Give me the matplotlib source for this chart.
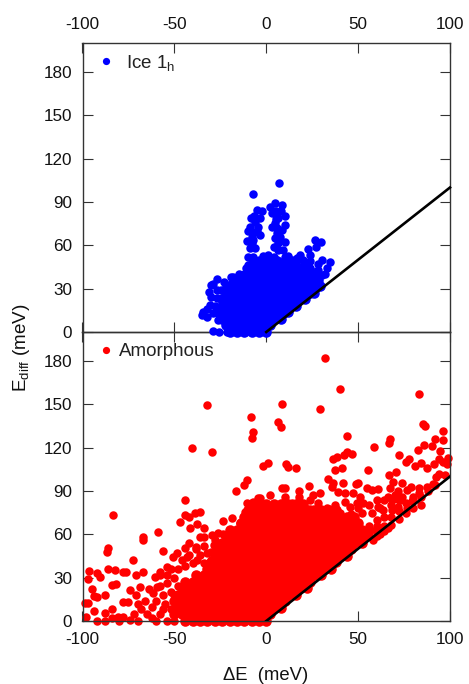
import numpy as np
import matplotlib
matplotlib.use('Agg')
import matplotlib.pyplot as plt
from matplotlib.lines import Line2D

plt.rcParams['font.family'] = ['Liberation Sans', 'DejaVu Sans']
plt.rcParams['mathtext.fontset'] = 'custom'
plt.rcParams['mathtext.rm'] = 'Liberation Sans'
plt.rcParams['mathtext.default'] = 'rm'
plt.rcParams['axes.unicode_minus'] = False

x_ticks = [-100, -50, 0, 50, 100]
y_ticks = [0, 30, 60, 90, 120, 150, 180]
line_x = [0, 100]
line_y = [0, 100]

# dense part of each cloud, read row by row
ice_row_y = [0, 4.5, 9, 13.5, 18, 22.5, 27, 31.5, 36, 40.5, 45, 49]
ice_row_x = [
    [-20, -16, -12, -8, -4, 0],
    [-22, -18, -14, -10, -6, -2, 2],
    [-24, -20, -16, -12, -8, -4, 0, 4, 8],
    [-26, -22, -18, -14, -10, -6, -2, 2, 6, 10, 12],
    [-24, -20, -16, -12, -8, -4, 0, 4, 8, 12, 16],
    [-24, -22, -18, -14, -10, -6, -2, 2, 6, 10, 14, 18, 21],
    [-22, -20, -16, -12, -8, -4, 0, 4, 8, 12, 16, 20, 24, 26],
    [-20, -18, -14, -10, -6, -2, 2, 6, 10, 14, 18, 22, 26, 29],
    [-16, -12, -8, -4, 0, 4, 8, 12, 16, 20, 24, 28],
    [-10, -6, -2, 2, 6, 10, 14, 18, 22, 26],
    [-6, -4, 0, 4, 8, 12, 16, 20, 22],
    [0, 2, 6, 10, 14],
]
ice_x = [7.1, -7.4, 4.7, 8.4, 2, 5.3, 2.9, 10.2, 6.5, 2.9, 4.7, 10.2, 8.4, 5.6, 4.7, 10.2, 6.5, 6.5, 9.3, 12,
         -5.3, -2.5, -8.5, -3.4, -6.2, -4.3, -9.8, -7, -3.4, -10.7, -8, -8.9, -6.2, -9.8, -7, -9.8,
         -1.6, 1.1, 26.5, 29.8, 22.9, 26.9, 18.3, 23.8, 30.1, 34.7, 32.8, 28.3, 30.1, 27.4, 22, 16.5,
         -27, -30.1, -23, -18.9, -24.8, -12, -27, -30.6, -34.6, -35.2, -32.5, -28.8, -28.8, -25.6, -21.6, -16.1, -11.6,
         -7, -9, 5.5, 7.5, 4, 8, 6, -5, -6.5, -8, -8, -30, -28, -32, -26, -22, -18, -14, -11, -8, -4, 4, 10, 16,
         20, 24, 28, 32, 20, 24, 28, 26, 24, 18, -31, -29, -27, -19, -15]
ice_y = [103, 95.6, 89.6, 88, 86.8, 83.4, 82.2, 80.3, 78.7, 73, 75.3, 74.1, 70.7, 68.3, 64.9, 62.6, 61.4, 56.8, 56.8, 52.9,
         84.5, 84, 79.2, 78.7, 76.4, 73, 70.2, 68.3, 67.2, 63.3, 61.4, 58, 58, 52.2, 52.2, 46.4,
         52.7, 53.3, 63.7, 62.6, 57.3, 58.7, 53.3, 53.3, 49.9, 48.7, 44.1, 43, 39.5, 34.9, 47.6, 51,
         36.5, 32.6, 34.4, 34.9, 29.1, 40, 23.3, 18.7, 14.1, 11.8, 10.6, 13, 0.7, 0, 0, 0, 0,
         64, 73, 78, 66, 59, 84, 72, 70, 80, 66, 48, 24, 18, 16, 8, 32, 38, 38, 44, 47, 50, 52, 52, 48,
         45, 42, 37, 40, 50, 49, 47, 40, 44, 51, 28, 33, 29, 38, 40]

amorph_row_y = [0, 4.5, 9, 13.5, 18, 22.5, 27, 31.5, 36, 40.5, 45, 49.5, 54, 58.5, 63, 67.5, 72, 76.5, 81]
amorph_row_x = [
    [-44, -40, -36, -32, -28, -24, -20, -16, -12, -8, -4, 0],
    [-50, -46, -42, -38, -34, -30, -26, -22, -18, -14, -10, -6, -2, 2],
    [-48, -44, -40, -36, -32, -28, -24, -20, -16, -12, -8, -4, 0, 4, 8],
    [-50, -46, -42, -38, -34, -30, -26, -22, -18, -14, -10, -6, -2, 2, 6, 10],
    [-48, -44, -40, -36, -32, -28, -24, -20, -16, -12, -8, -4, 0, 4, 8, 12, 16],
    [-46, -42, -38, -34, -30, -26, -22, -18, -14, -10, -6, -2, 2, 6, 10, 14, 18, 22],
    [-44, -40, -36, -32, -28, -24, -20, -16, -12, -8, -4, 0, 4, 8, 12, 16, 20, 24],
    [-38, -34, -30, -26, -22, -18, -14, -10, -6, -2, 2, 6, 10, 14, 18, 22, 26, 30],
    [-32, -28, -24, -20, -16, -12, -8, -4, 0, 4, 8, 12, 16, 20, 24, 28, 32, 35],
    [-30, -26, -22, -18, -14, -10, -6, -2, 2, 6, 10, 14, 18, 22, 26, 30, 34, 38],
    [-28, -24, -20, -16, -12, -8, -4, 0, 4, 8, 12, 16, 20, 24, 28, 32, 36, 40, 44],
    [-26, -22, -18, -14, -10, -6, -2, 2, 6, 10, 14, 18, 22, 26, 30, 34, 38, 42, 46],
    [-24, -20, -16, -12, -8, -4, 0, 4, 8, 12, 16, 20, 24, 28, 32, 36, 40, 44, 48, 52],
    [-22, -18, -14, -10, -6, -2, 2, 6, 10, 14, 18, 22, 26, 30, 34, 38, 42, 46, 50, 54],
    [-20, -16, -12, -8, -4, 0, 4, 8, 12, 16, 20, 24, 28, 32, 36, 40, 44, 48, 52, 56],
    [-14, -10, -6, -2, 2, 6, 10, 14, 18, 22, 26, 30, 34, 38, 42, 46, 50],
    [-12, -8, -4, 0, 4, 8, 12, 16, 20, 24, 28, 32, 36, 40, 44, 48],
    [-10, -6, -2, 2, 6, 10, 14, 18, 22, 26, 30, 34, 38],
    [-8, -4, 0, 4, 8, 12, 16, 20],
]
amorph_x = [-32.4, -8.5, -7, -8, -40.6, -29.3, -44.2, -10.7, -12.1, -16.3, -83.6, -86.3, -86.8, -67.2, -66.9, -58.9,
            -56, -72.7, -96.6, -96.8, -92, -90.5, -86.3, -82.3, -78, -76.5, -70.9, -66.9, -84, -81.6, -94.6, -94,
            -92, -87.7, -98.6, -96.8, -93.5, -98, -84, -87.7, -92, -74, -70.7, -68.9, -77.8, -75, -80.5, -77.8, -84,
            -60.5, -57.7, -61.5, -59.5, -46.9, -44, -42.3, -38.8, -36.3, -37.9, -41.5, -33.8, -36, -33.8, -29.3, -26,
            -23.3, -23.6, -18.5, -14.3, -41.8, -44.2, -38, -48.7, -50.5, -28.4, -22.4, -43, -37.9, -32.2, -54.2, -57.7,
            -10.7, -7, -11.6, -4.3,
            32.2, 40.3, 83.1, 8.4, 29, 6.6, 7.8, 85.5, 86.6, 96.2, 44.1, 67.3, 67, 96.2, 91.8, 58.6, 85.8, 90.4, 82.4,
            94.4, 44.1, 46.5, 42.3, 38.7, 36.1, 72.4, 77.9, 76, 94, 98.7, 96.4, 98.2, 84, 81.1, 91.5, 87.7, 10.8, 11.8,
            16, 1.1, -1.6, 41, 37.4, 55.6, 70.6, 66.8, 94, 92.4, 97.3, 33.8, 23.4, 69.2, 73.9, 35.6, 36.5, 42, 48.8, 50.1,
            8.4, 10.2, 18, 29.3, 25.6, 2, -3.4, 39.2, 42.9, 47.4, 54.6, 61, 57.4, 67.3, 71.9, 78.8, 76.4, 70, 83.3, 68.3,
            72.8, 79.1, 60.1, 61, 51, 49.2, 42.9, 37.4, 28.3, 23.8, 18, 10.2, 13.8, 9.3, 3.9, 17.5, 23.8, 32.9, 45.6, 52.8,
            57.4, 52, 12, 76.4, 68.3, 71.9, 63.7, 40, 32, 20, 83.3, 87.3, 90.9,
            60, 64, 68, 72, 76, 80, 58, 62, 66,
            -65, -62, -58, -55, -52, -56, -54, -50, -48, -52, -46, -44, -42, -40, -36, -34, -30, -28, -62, -68, -70,
            -66, -72, -64, -58, -74, -70, -60, -54, -50, -88, -80, -56, -52, -60, -48, -50, -54, -38, -34, -30, -28,
            60, 56, 60, 64, 56, 60, 64, 68, 72, 76, 80, 84, 88, 92, 68, 74, 56, 64, 50, 46, 42, 84, 80, 72, 66, 62]
amorph_y = [149.8, 141.5, 131, 126.5, 119.8, 117.3, 83.8, 97.6, 94.2, 89.8, 73.4, 50.3, 48, 58, 56, 61.9,
            48.5, 42.2, 34.9, 28.9, 33, 30.7, 35.8, 35.3, 33.7, 33.7, 31.9, 34, 25, 25.4, 22.4, 17.5,
            16.8, 18, 12.7, 12.3, 6.9, 3, 8, 5.3, 0, 21.5, 18, 23.8, 13.4, 13.4, 3, 3, 2,
            30.7, 31.9, 19.2, 23.8, 68.8, 73.4, 71.8, 75, 75.5, 67, 64.6, 64.2, 58.4, 58.4, 59.6, 61.2,
            60.3, 69.5, 71, 67.6, 53.8, 50.3, 51.5, 46.9, 44.6, 52.6, 56, 44.6, 42.2, 46.9, 37.6, 34,
            81.5, 82.6, 75.7, 85,
            182.1, 160.4, 157, 150, 146.6, 137.6, 134.1, 136.4, 135, 131.6, 128.1, 126, 123.5, 125.3, 125.8, 120.7, 121.9, 121.4, 118.2,
            117.5, 117.3, 115.6, 115, 113.8, 112, 115, 112, 110.3, 112, 112.6, 110.3, 108.7, 109.6, 107.3, 108.7, 106.2, 108.7, 106.4,
            106, 109.2, 107.6, 106.2, 104.6, 104.6, 103, 101.1, 101.6, 99.5, 101, 98.3, 93.3, 96.5, 95.3, 93, 95.3, 95.3, 94.9, 95.3,
            91.9, 92.3, 90.3, 88.9, 87.3, 87.3, 85, 89.6, 88.4, 88.4, 91.9, 91.4, 90.7, 91.9, 90, 93, 90.7, 87.3, 88.4, 83.8,
            83.8, 83.3, 83.8, 79.2, 86.1, 81.5, 82.6, 80.3, 81.5, 83.8, 86.1, 86.1, 81.5, 81.5, 76.9, 81.5, 77.3, 78, 79.2, 81.5,
            74.6, 74.6, 74.6, 78, 76.9, 79.2, 76.9, 74.6, 73.4, 72, 91.9, 93, 94.6,
            58.5, 62, 66.5, 70.5, 74.5, 78.5, 56, 60, 64.5,
            5, 10, 5, 12, 20, 18, 26, 30, 36, 36, 42, 38, 46, 40, 46, 40, 42, 36, 2, 8, 12,
            14, 5, 22, 24, 1, 0, 0, 0, 0, 0, 0, 8, 8, 14, 24, 18, 32, 50, 52, 48, 56,
            62, 60, 70, 72, 66, 66, 66, 72, 76, 82, 86, 86, 90, 94, 80, 86, 80, 84, 78, 74, 70, 80, 84, 84, 86, 78]


def flatten(row_y, row_x):
    all_x = []
    all_y = []
    for yy, xs in zip(row_y, row_x):
        all_x += xs
        all_y += [yy] * len(xs)
    return all_x, all_y


def style(ax):
    ax.set_xlim(-100, 100)
    ax.set_ylim(0, 200)
    ax.set_xticks(x_ticks)
    ax.set_yticks(y_ticks)
    ax.tick_params(direction='in', length=7, width=0.8, color='#333333', top=True, right=True,
                   labelsize=12.3, labelcolor='#111111')
    ax.tick_params(axis='y', pad=7.5)
    ax.tick_params(axis='x', pad=8)
    for s in ax.spines.values():
        s.set_linewidth(1.0)
        s.set_color('#333333')


fig = plt.figure(figsize=(4.69, 6.84), dpi=100)
ax1 = fig.add_axes([82.5/469, 1-332/684, 367.5/469, 289/684])
ax2 = fig.add_axes([82.5/469, 1-621/684, 367.5/469, 289/684])

ice_core_x, ice_core_y = flatten(ice_row_y, ice_row_x)
amorph_core_x, amorph_core_y = flatten(amorph_row_y, amorph_row_x)

# core markers a bit bigger so the coarse rows close up
ax1.plot(ice_core_x, ice_core_y, 'o', color='#0000ff', ms=7.6, mew=0, clip_on=False, zorder=5)
ax1.plot(ice_x, ice_y, 'o', color='#0000ff', ms=6.1, mew=0, clip_on=False, zorder=5)
ax1.plot(line_x, line_y, color='black', lw=1.9, zorder=6, clip_on=False)
ax2.plot(amorph_core_x, amorph_core_y, 'o', color='#ff0000', ms=7.6, mew=0, clip_on=False, zorder=2)
ax2.plot(amorph_x, amorph_y, 'o', color='#ff0000', ms=6.1, mew=0, clip_on=False, zorder=2)
ax2.plot(line_x, line_y, color='black', lw=1.9, zorder=3)

style(ax1)
style(ax2)
ax1.tick_params(labelbottom=False, labeltop=True, bottom=True)
ax2.tick_params(labelbottom=True, labeltop=False)
ax1.set_zorder(3)
ax1.patch.set_alpha(0)

h1 = Line2D([], [], ls='', marker='o', color='#0000ff', ms=5.2, mew=0)
h2 = Line2D([], [], ls='', marker='o', color='#ff0000', ms=5.2, mew=0)
ax1.legend([h1], ['Ice 1$_{\\mathrm{h}}$'], loc='upper left', bbox_to_anchor=(0.0, 1.014), frameon=False,
           fontsize=13.5, handlelength=1.0, handletextpad=0.57, borderaxespad=0.35, labelcolor='#222222')
ax2.legend([h2], ['Amorphous'], loc='upper left', bbox_to_anchor=(0.0, 1.0104), frameon=False,
           fontsize=13.5, handlelength=1.0, handletextpad=0.21, borderaxespad=0.35, labelcolor='#222222')

fig.text(22/469, 1-348/684, 'E$_{\\mathrm{diff}}$ (meV)', rotation=90, ha='center', va='center',
         fontsize=13.6, color='#111111')
fig.text(266/469, 1-675/684, '\u0394E  (meV)', ha='center', va='center', fontsize=13.3, color='#111111')

fig.savefig('out.png', dpi=100)
